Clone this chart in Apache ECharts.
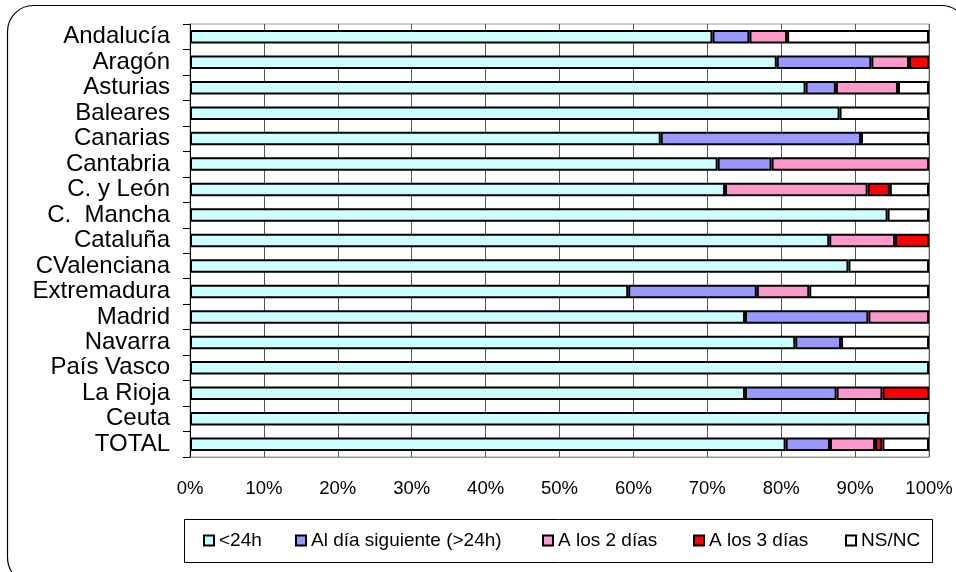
<!DOCTYPE html>
<html>
<head>
<meta charset="utf-8">
<script src="https://cdn.jsdelivr.net/npm/echarts@6/dist/echarts.min.js"></script>
<style>
  html, body { margin: 0; padding: 0; background: #fff; }
  #chart { width: 956px; height: 572px; }
</style>
</head>
<body>
<div id="chart"></div>
<script>
// Regions (top to bottom)
const categories = ['Andalucía', 'Aragón', 'Asturias', 'Baleares', 'Canarias', 'Cantabria',
  'C. y León', 'C.  Mancha', 'Cataluña', 'CValenciana', 'Extremadura', 'Madrid',
  'Navarra', 'País Vasco', 'La Rioja', 'Ceuta', 'TOTAL'];

// Share of responses (%) per response time
const under24h  = [70.7, 79.4, 83.3, 87.9, 63.7, 71.4, 72.4, 94.4, 86.5, 89.1, 59.3, 75.1, 81.9, 100, 75.1, 100, 80.6];
const nextDay   = [5.0, 12.8, 4.1, 0, 27.1, 7.3, 0, 0, 0, 0, 17.4, 16.7, 6.2, 0, 12.4, 0, 6.0];
const twoDays   = [5.1, 5.1, 8.4, 0, 0, 21.3, 19.3, 0, 8.9, 0, 7.1, 8.2, 0, 0, 6.2, 0, 6.1];
const threeDays = [0, 2.7, 0, 0, 0, 0, 3.0, 0, 4.6, 0, 0, 0, 0, 0, 6.3, 0, 1.0];
const nsnc      = [19.2, 0, 4.2, 12.1, 9.2, 0, 5.3, 5.6, 0, 10.9, 16.2, 0, 11.9, 0, 0, 0, 6.3];

const seriesNames = ['<24h', 'Al día siguiente (>24h)', 'A los 2 días', 'A los 3 días', 'NS/NC'];
const seriesData = [under24h, nextDay, twoDays, threeDays, nsnc];
const seriesColors = ['#CCFFFF', '#9999FF', '#FF99CC', '#FF0000', '#FFFFFF'];

const FONT = 'Arial, "Liberation Sans", sans-serif';
const chart = echarts.init(document.getElementById('chart'), null, { renderer: 'canvas' });

// Left edge of each legend entry's swatch
const legendLefts = [203, 295, 542, 693, 845];

const option = {
  backgroundColor: '#fff',
  animation: false,
  grid: {
    left: 190, right: 27, top: 24, bottom: 115,
    show: true, borderColor: '#999', borderWidth: 1, backgroundColor: 'transparent'
  },
  xAxis: {
    type: 'value',
    min: 0, max: 100, interval: 10,
    axisLabel: {
      formatter: '{value}%', color: '#000', fontFamily: FONT, fontSize: 18.5, margin: 22
    },
    axisLine: { show: true, lineStyle: { color: '#999', width: 1 } },
    axisTick: { show: false },
    splitLine: { show: true, lineStyle: { color: '#555', width: 1 } }
  },
  yAxis: {
    type: 'category',
    data: categories,
    inverse: true,
    axisLabel: { color: '#000', fontFamily: FONT, fontSize: 24, margin: 20, interval: 0, lineHeight: 24 },
    axisLine: { show: true, lineStyle: { color: '#000', width: 1 } },
    axisTick: { show: true, inside: false, length: 7, interval: 0, lineStyle: { color: '#000' } },
    splitLine: { show: false }
  },
  legend: seriesNames.map((name, i) => ({
    data: [name],
    left: legendLefts[i],
    top: 531,
    orient: 'horizontal',
    icon: 'rect',
    itemWidth: 10,
    itemHeight: 10,
    itemGap: 0,
    selectedMode: false,
    textStyle: { color: '#000', fontFamily: FONT, fontSize: 19, padding: [0, 0, 0, 0] },
    padding: 0
  })),
  series: seriesNames.map((name, i) => ({
    name: name,
    type: 'bar',
    stack: 'total',
    // empty segments are left out so they add no extra outline
    data: seriesData[i].map(v => (v === 0 ? '-' : v)),
    barCategoryGap: '47%',
    itemStyle: { color: seriesColors[i], borderColor: '#000', borderWidth: 2 }
  })),
  graphic: [
    {
      type: 'rect',
      shape: { x: 7.5, y: 5.5, width: 960, height: 578, r: 26 },
      style: { fill: 'none', stroke: '#000', lineWidth: 1.2 },
      silent: true, z: 100
    },
    {
      type: 'rect',
      shape: { x: 184.5, y: 519.5, width: 748, height: 43 },
      style: { fill: 'none', stroke: '#000', lineWidth: 1 },
      silent: true, z: 100
    }
  ]
};

chart.setOption(option);
</script>
</body>
</html>
